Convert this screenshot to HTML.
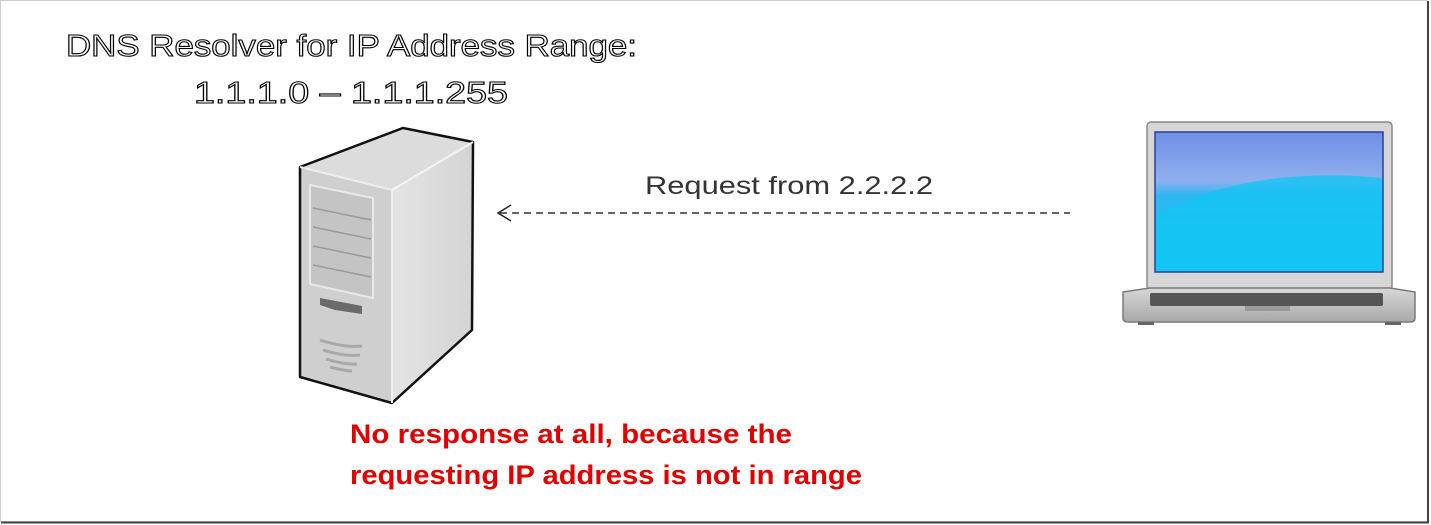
<!DOCTYPE html>
<html><head><meta charset="utf-8"><style>
html,body{margin:0;padding:0;background:#fff;}
svg{display:block}
</style></head><body>
<svg width="1431" height="525" viewBox="0 0 1431 525" xmlns="http://www.w3.org/2000/svg">
<defs>
<linearGradient id="scr" x1="0" y1="0" x2="0" y2="1">
<stop offset="0" stop-color="#6f8ee6"/><stop offset="0.35" stop-color="#8fb0ee"/><stop offset="0.45" stop-color="#2fb6f0"/><stop offset="1" stop-color="#10c8f4"/>
</linearGradient>
<linearGradient id="side" x1="0" y1="0" x2="1" y2="0">
<stop offset="0" stop-color="#e4e4e4"/><stop offset="1" stop-color="#d4d4d4"/>
</linearGradient>
<linearGradient id="base" x1="0" y1="0" x2="0" y2="1">
<stop offset="0" stop-color="#d8d8d8"/><stop offset="1" stop-color="#a8a8a8"/>
</linearGradient>
</defs>
<rect x="0" y="0" width="1431" height="525" fill="#fff"/>
<!-- frame -->
<rect x="0.5" y="0.5" width="1427" height="521" fill="none" stroke="#cfcfcf" stroke-width="1"/>
<line x1="1428" y1="1" x2="1428" y2="523" stroke="#444" stroke-width="2"/>
<line x1="1" y1="522.5" x2="1429" y2="522.5" stroke="#444" stroke-width="2"/>

<!-- title -->
<g font-family="Liberation Sans, sans-serif" font-size="31" fill="#fff" stroke="#000" stroke-width="1.1">
<text x="66" y="56" textLength="571" lengthAdjust="spacingAndGlyphs">DNS Resolver for IP Address Range:</text>
<text x="194" y="103" textLength="314" lengthAdjust="spacingAndGlyphs">1.1.1.0  –  1.1.1.255</text>
</g>

<!-- server -->
<g stroke-linejoin="round">
<path d="M300,167 L403,128 L473,142 L392,190 Z" fill="#dcdcdc"/>
<path d="M392,190 L473,142 L472,330 L392,403 Z" fill="url(#side)"/>
<path d="M300,167 L392,190 L392,403 L300,377 Z" fill="#cfcfcf"/>
<path d="M300,167 L403,128 L473,142 L472,330 L392,403 L300,377 Z" fill="none" stroke="#111" stroke-width="2.5"/>
<line x1="392" y1="190" x2="473" y2="142" stroke="#f4f4f4" stroke-width="2"/>
<line x1="392" y1="190" x2="392" y2="403" stroke="#efefef" stroke-width="2"/>
<line x1="300" y1="167" x2="392" y2="190" stroke="#eeeeee" stroke-width="2"/>
<path d="M310,185 L373,198 L373,298 L310,284 Z" fill="#c4c4c4" stroke="#e8e8e8" stroke-width="2"/>
<g stroke="#9a9a9a" stroke-width="1.5">
<line x1="313" y1="208" x2="371" y2="220"/>
<line x1="313" y1="227" x2="371" y2="239"/>
<line x1="313" y1="246" x2="371" y2="258"/>
<line x1="313" y1="265" x2="371" y2="277"/>
</g>
<path d="M320,298 L362,306 L362,314 L335,310 L320,305 Z" fill="#6a6a6a"/>
<g stroke="#a8a8a8" stroke-width="3" fill="none">
<path d="M320,340 Q345,348 362,346"/>
<path d="M323,350 Q345,357 360,355"/>
<path d="M326,359 Q345,365 357,364"/>
<path d="M330,367 Q345,371 352,371"/>
</g>
</g>

<!-- arrow -->
<line x1="500" y1="213" x2="1070" y2="213" stroke="#333" stroke-width="1.5" stroke-dasharray="7,5"/>
<path d="M511,205 L498,213 L511,221" fill="none" stroke="#222" stroke-width="1.5"/>
<text x="645" y="194" font-family="Liberation Sans, sans-serif" font-size="25" fill="#333" textLength="288" lengthAdjust="spacingAndGlyphs">Request from 2.2.2.2</text>

<!-- laptop -->
<rect x="1147" y="122" width="245" height="168" rx="4" fill="#d6d6d6" stroke="#888" stroke-width="1.5"/>
<rect x="1155" y="132" width="228" height="140" fill="url(#scr)" stroke="#2a3fa0" stroke-width="1.5"/>
<path d="M1156,215 Q1250,165 1382,178 L1382,271 L1156,271 Z" fill="#14c4f2" opacity="0.8"/>
<path d="M1123,292 L1150,288 L1390,288 L1415,292 L1415,318 Q1415,322 1410,322 L1128,322 Q1123,322 1123,318 Z" fill="url(#base)" stroke="#7a7a7a" stroke-width="1.5"/>
<rect x="1150" y="293" width="233" height="13" rx="2" fill="#555"/>
<rect x="1245" y="306" width="45" height="5" fill="#999"/>
<rect x="1138" y="322" width="16" height="3" fill="#666"/>
<rect x="1385" y="322" width="16" height="3" fill="#666"/>

<!-- red text -->
<g font-family="Liberation Sans, sans-serif" font-size="27" font-weight="bold" fill="#e00000">
<text x="350" y="443" textLength="442" lengthAdjust="spacingAndGlyphs">No response at all, because the</text>
<text x="350" y="484" textLength="512" lengthAdjust="spacingAndGlyphs">requesting IP address is not in range</text>
</g>
</svg>
</body></html>
